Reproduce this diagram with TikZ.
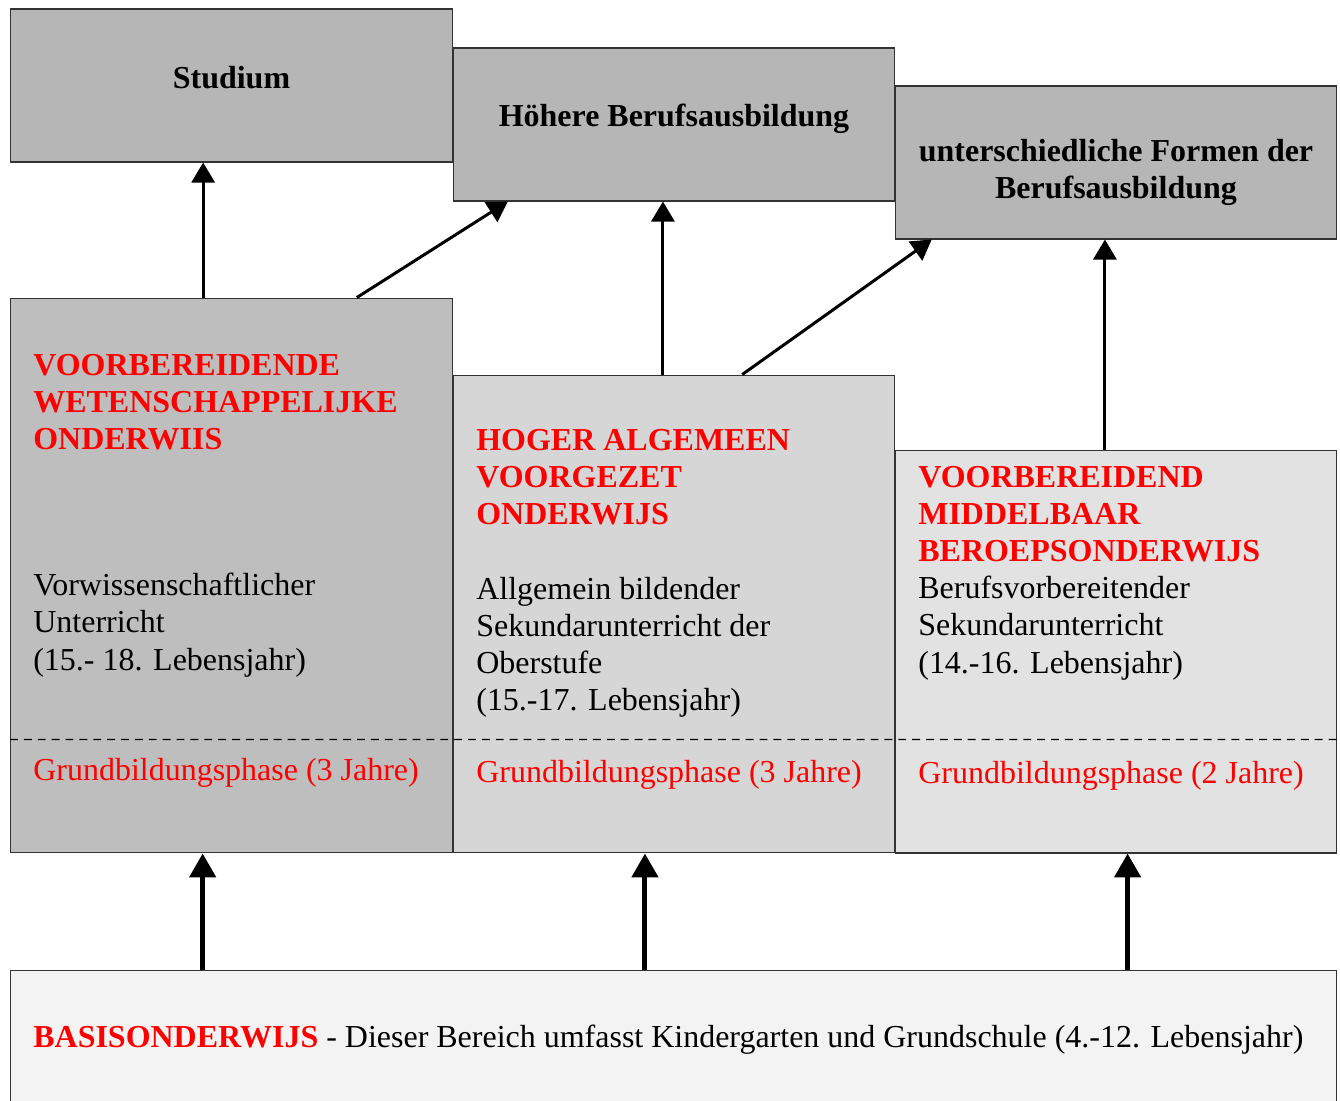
\documentclass[tikz,border=0pt]{standalone}
\usepackage{fontspec}
\setmainfont{Liberation Serif}
\usepackage{xcolor}
\usetikzlibrary{arrows.meta,calc}

\definecolor{goalGray}{RGB}{182,182,182}
\definecolor{vwoGray}{RGB}{190,190,190}
\definecolor{havoGray}{RGB}{214,214,214}
\definecolor{vmboGray}{RGB}{226,226,226}
\definecolor{basisGray}{RGB}{243,243,243}

\begin{document}
\begin{tikzpicture}[
        x=0.02cm, y=-0.02cm,
        font=\fontsize{18.2}{21.1}\selectfont,
        goalNode/.style={rectangle, draw=black!80, fill=goalGray, line width=0.6pt,
        minimum width=8.84cm, minimum height=3.06cm},
        goalText/.style={inner sep=0pt, align=center,
        font=\fontsize{18.2}{21.1}\selectfont\bfseries},
        schoolNode/.style={rectangle, draw=black!80, line width=0.6pt,
        minimum width=8.84cm, inner sep=0pt},
        titleText/.style={anchor=north west, inner sep=0pt, align=left, text=red,
        font=\fontsize{18.2}{21.1}\selectfont\bfseries},
        bodyText/.style={anchor=north west, inner sep=0pt, align=left},
        phaseText/.style={anchor=north west, inner sep=0pt, text=red},
        upArrow/.style={-{Triangle[length=0.4cm,width=0.46cm]}, line width=1.7pt},
        baseArrow/.style={-{Triangle[length=0.48cm,width=0.52cm]}, line width=2.8pt},
        phaseLine/.style={dash pattern=on 4.5pt off 3.4pt, line width=0.7pt},
    ]
    \useasboundingbox (0,0) rectangle (1340,1100);

    % goals on top
    \node[goalNode] (studium) at (231.5,85.5)  {};
    \node[goalNode] (hoehere) at (674,124.5)   {};
    \node[goalNode] (formen)  at (1116,162.5)  {};
    \node[goalText] (studiumText) at ($(studium.center)+(0,-8)$) {Studium};
    \node[goalText] (hoehereText) at ($(hoehere.center)+(0,-6)$) {Höhere Berufsausbildung};
    \node[goalText] (formenText)  at ($(formen.center)+(0,10)$)  {unterschiedliche Formen der\\Berufsausbildung};

    % secondary school types
    \node[schoolNode, fill=vwoGray,  minimum height=11.1cm]  (vwo)  at (231.5,575.5) {};
    \node[schoolNode, fill=havoGray, minimum height=9.56cm]  (havo) at (674,614)     {};
    \node[schoolNode, fill=vmboGray, minimum height=8.06cm]  (vmbo) at (1116,651.5)  {};
    \node[schoolNode, fill=basisGray, minimum width=26.54cm, minimum height=2.8cm] (basis) at (673.5,1040) {};

    \draw[phaseLine] ($(vwo.south west)+(0,-114)$) -- ($(vmbo.south east)+(0,-114)$);

    \node[titleText] (vwoTitle)  at (33,354)  {VOORBEREIDENDE\\WETENSCHAPPELIJKE\\ONDERWIIS};
    \node[bodyText]  (vwoText)   at (33,573)  {Vorwissenschaftlicher\\Unterricht\\(15.- 18. Lebensjahr)};
    \node[phaseText] (vwoPhase)  at (33,758)  {Grundbildungsphase (3 Jahre)};

    \node[titleText] (havoTitle) at (476,429) {HOGER ALGEMEEN\\VOORGEZET\\ONDERWIJS};
    \node[bodyText]  (havoText)  at (476,577) {Allgemein bildender\\Sekundarunterricht der\\Oberstufe\\(15.-17. Lebensjahr)};
    \node[phaseText] (havoPhase) at (476,760) {Grundbildungsphase (3 Jahre)};

    \node[titleText] (vmboTitle) at (918,466) {VOORBEREIDEND\\MIDDELBAAR\\BEROEPSONDERWIJS};
    \node[bodyText]  (vmboText)  at (918,576) {Berufsvorbereitender\\Sekundarunterricht\\(14.-16. Lebensjahr)};
    \node[phaseText] (vmboPhase) at (918,761) {Grundbildungsphase (2 Jahre)};

    \node[bodyText]  (basisText) at (33,1025) {\textcolor{red}{\bfseries BASISONDERWIJS} - Dieser Bereich umfasst Kindergarten und Grundschule (4.-12. Lebensjahr)};

    % arrows to the goals
    \draw[upArrow] ($(vwo.north west)!0.436!(vwo.north east)$) -- ($(studium.south west)!0.436!(studium.south east)$);
    \draw[upArrow] ($(vwo.north west)!0.783!(vwo.north east)$) -- ($(hoehere.south west)!0.125!(hoehere.south east)$);
    \draw[upArrow] ($(havo.north west)!0.475!(havo.north east)$) -- ($(hoehere.south west)!0.475!(hoehere.south east)$);
    \draw[upArrow] ($(havo.north west)!0.654!(havo.north east)$) -- ($(formen.south west)!0.084!(formen.south east)$);
    \draw[upArrow] ($(vmbo.north west)!0.475!(vmbo.north east)$) -- ($(formen.south west)!0.475!(formen.south east)$);

    % arrows from basisonderwijs
    \coordinate (toVwo)  at ($(basis.north west)!0.1454!(basis.north east)$);
    \coordinate (toHavo) at ($(basis.north west)!0.4785!(basis.north east)$);
    \coordinate (toVmbo) at ($(basis.north west)!0.842!(basis.north east)$);
    \draw[baseArrow] (toVwo)  -- (toVwo |- vwo.south);
    \draw[baseArrow] (toHavo) -- (toHavo |- havo.south);
    \draw[baseArrow] (toVmbo) -- (toVmbo |- vmbo.south);
\end{tikzpicture}
\end{document}
